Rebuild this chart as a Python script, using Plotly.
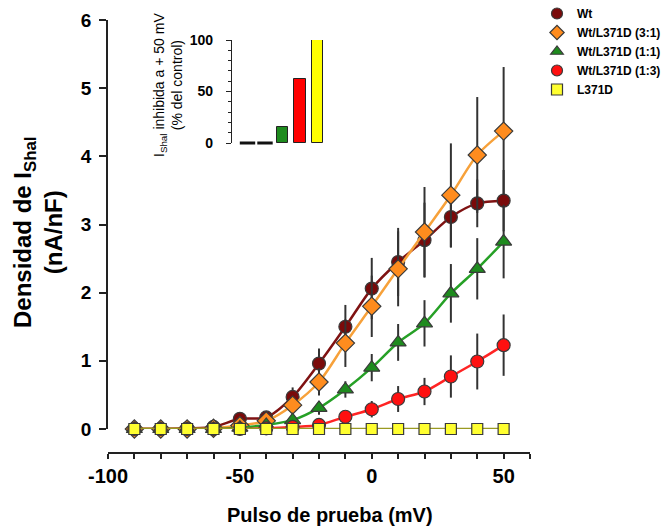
import plotly.graph_objects as go

# ---------------- data ----------------
voltage = [-90, -80, -70, -60, -50, -40, -30, -20, -10, 0, 10, 20, 30, 40, 50]

series_names = ["Wt", "Wt/L371D (3:1)", "Wt/L371D (1:1)", "Wt/L371D (1:3)", "L371D"]

wt = [0, 0, 0.01, 0.03, 0.15, 0.17, 0.47, 0.96, 1.50, 2.06, 2.45, 2.77, 3.11, 3.31, 3.35]
wt_err = [0, 0, 0, 0.02, 0.06, 0.08, 0.14, 0.22, 0.32, 0.45, 0.50, 0.55, 0.45, 0.35, 0.45]

wt_3_1 = [0, 0, 0, 0.01, 0.05, 0.12, 0.35, 0.69, 1.26, 1.80, 2.35, 2.89, 3.43, 4.02, 4.37]
wt_3_1_err = [0, 0, 0, 0, 0.03, 0.06, 0.12, 0.20, 0.35, 0.45, 0.55, 0.66, 0.76, 0.85, 0.94]

wt_1_1 = [0, 0, 0, 0, 0.02, 0.06, 0.13, 0.31, 0.58, 0.90, 1.27, 1.55, 1.99, 2.35, 2.75]
wt_1_1_err = [0, 0, 0, 0, 0, 0.03, 0.06, 0.10, 0.12, 0.20, 0.27, 0.34, 0.43, 0.45, 0.54]

wt_1_3 = [0, 0, 0, 0, 0, 0.01, 0.03, 0.06, 0.18, 0.29, 0.44, 0.55, 0.77, 0.99, 1.23]
wt_1_3_err = [0, 0, 0, 0, 0, 0, 0.02, 0.04, 0.08, 0.12, 0.19, 0.20, 0.31, 0.41, 0.45]

l371d = [0] * 15
l371d_err = [0] * 15

inhib_pct = [0, 0, 16, 62, 100]

x_tickvals = [-100, -50, 0, 50]
x_ticktext = ["-100", "-50", "0", "50"]
y_tickvals = [0, 1, 2, 3, 4, 5, 6]
inset_tickvals = [0, 50, 100]

# ---------------- styles ----------------
FONT = "Liberation Sans, Arial, sans-serif"
marker_fill = ["#7a0a0a", "#ff8c1e", "#1e8b1e", "#ff1010", "#ffff30"]
line_col = ["#7f1212", "#f7a13a", "#26a026", "#ff2424", "#9a9a22"]
symbols = ["circle", "diamond", "triangle-up", "circle", "square"]
sizes = [13, 14, 14, 13, 11]
ys = [wt, wt_3_1, wt_1_1, wt_1_3, l371d]
errs = [wt_err, wt_3_1_err, wt_1_1_err, wt_1_3_err, l371d_err]

fig = go.Figure()

for i in range(5):
    fig.add_trace(go.Scatter(
        x=voltage, y=ys[i], mode="lines+markers",
        line=dict(color=line_col[i], width=2.5, shape="spline", smoothing=0.8),
        marker=dict(symbol=symbols[i], size=sizes[i], color=marker_fill[i],
                    line=dict(color="#3a3a3a", width=1.2)),
        error_y=dict(type="data", array=errs[i], visible=True,
                     color="#333333", thickness=2, width=0),
        cliponaxis=False, showlegend=False, xaxis="x", yaxis="y"))

# legend-only entries (markers only)
for i in range(5):
    fig.add_trace(go.Scatter(
        x=[None], y=[None], mode="markers", name=series_names[i],
        marker=dict(symbol=symbols[i], size=11, color=marker_fill[i],
                    line=dict(color="#3a3a3a", width=1.2)),
        showlegend=True))

# inset bars
bar_idx = list(range(len(inhib_pct)))
bar_cols = ["#000000", "#000000", "#1e8b1e", "#ff0000", "#ffff00"]
fig.add_trace(go.Bar(
    x=[i for i, v in zip(bar_idx, inhib_pct) if v > 0],
    y=[v for v in inhib_pct if v > 0],
    marker=dict(color=[c for c, v in zip(bar_cols, inhib_pct) if v > 0],
                line=dict(color="#222", width=1)),
    width=0.63, xaxis="x2", yaxis="y2", showlegend=False))
fig.add_trace(go.Scatter(
    x=[i for i, v in zip(bar_idx, inhib_pct) if v == 0],
    y=[v for v in inhib_pct if v == 0],
    mode="markers", marker=dict(symbol="line-ew", size=11, line=dict(color="#111", width=3)),
    cliponaxis=False, xaxis="x2", yaxis="y2", showlegend=False))

fig.update_layout(
    width=671, height=529,
    margin=dict(l=108, r=141, t=20, b=76, autoexpand=False),
    paper_bgcolor="white", plot_bgcolor="white",
    font=dict(family=FONT, color="black"),
    xaxis=dict(range=[-100, 60], domain=[0, 1], anchor="free", position=0,
               showline=True, linecolor="#222", linewidth=1.5,
               tickvals=x_tickvals, ticktext=x_ticktext,
               ticks="outside", ticklen=5, tickwidth=1.5, tickcolor="#222",
               minor=dict(dtick=10, tick0=0, ticks="outside", ticklen=5, tickwidth=1.5,
                          tickcolor="#222", showgrid=False),
               tickfont=dict(size=20, weight="bold", family=FONT),
               showgrid=False, zeroline=False, automargin=False),
    yaxis=dict(range=[0, 6], domain=[(453 - 429) / 433, 1], anchor="x",
               showline=True, linecolor="#222", linewidth=1.5,
               tickvals=y_tickvals, ticks="outside", ticklen=7, tickwidth=1.5,
               tickcolor="#222", tickfont=dict(size=19, weight="bold", family=FONT),
               ticklabelstandoff=4,
               showgrid=False, zeroline=False, automargin=False),
    xaxis2=dict(domain=[(232 - 108) / 422, (328 - 108) / 422], range=[-0.886, 4.6],
                anchor="y2", visible=False),
    yaxis2=dict(domain=[(453 - 143) / 433, (453 - 40) / 433], range=[0, 100], anchor="x2",
                showline=True, linecolor="#222", linewidth=1.2,
                tickvals=inset_tickvals, ticks="outside", ticklen=5, tickwidth=1.2,
                tickcolor="#222", tickfont=dict(size=14, weight="bold", family=FONT),
                ticklabelstandoff=10,
                minor=dict(dtick=10, ticks="outside", ticklen=3, tickwidth=1, tickcolor="#222"),
                showgrid=False, zeroline=False, automargin=False),
    legend=dict(x=(537 - 108) / 422, y=(453 + 1) / 433, xanchor="left", yanchor="top",
                font=dict(size=12, weight="bold", family=FONT),
                bgcolor="rgba(0,0,0,0)", tracegroupgap=0, itemwidth=30),
    bargap=0,
    annotations=[
        dict(text="Densidad de I<sub>Shal</sub><br>(nA/nF)", textangle=-90,
             x=(38 - 108) / 422, y=(453 - 232) / 433, xref="paper", yref="paper",
             xanchor="center", yanchor="middle", showarrow=False,
             font=dict(size=24, weight="bold", family=FONT)),
        dict(text="Pulso de prueba (mV)",
             x=(330 - 108) / 422, y=(453 - 515) / 433, xref="paper", yref="paper",
             xanchor="center", yanchor="middle", showarrow=False,
             font=dict(size=20, weight="bold", family=FONT)),
        dict(text="I<sub>Shal</sub> inhibida a + 50 mV<br>(% del control)", textangle=-90,
             x=(168 - 108) / 422, y=(453 - 85) / 433, xref="paper", yref="paper",
             xanchor="center", yanchor="middle", showarrow=False,
             font=dict(size=14, family=FONT)),
    ],
)

fig.write_html("out.html", config={"displayModeBar": False},
               post_script="document.body.style.margin='0';document.body.style.padding='0';")
